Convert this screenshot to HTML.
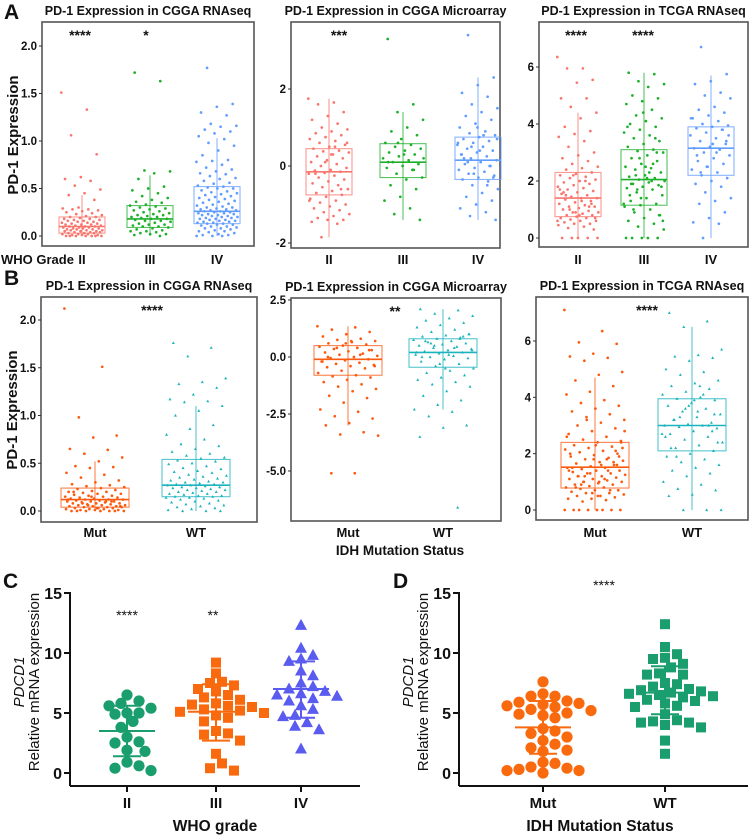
<!DOCTYPE html>
<html><head><meta charset="utf-8">
<style>
html,body{margin:0;padding:0;background:#fff;}
svg{display:block;font-family:"Liberation Sans",Arial,sans-serif;}
</style></head>
<body>
<svg id="fig" width="753" height="835" viewBox="0 0 753 835"></svg>
<script>
// ---------- DATA ----------
const gradeCats = ["II","III","IV"];
const idhCats = ["Mut","WT"];

// A1 CGGA RNAseq by grade
const a1II = [1.51,1.33,1.06,0.86,0.62,0.6,0.58,0.53,0.49,0.45,0.43,0.38,0.3,0.29,0.28,0.28,0.27,0.26,0.25,0.24,0.23,0.22,0.21,0.2,0.2,0.19,0.18,0.18,0.17,0.17,0.16,0.16,0.15,0.15,0.14,0.14,0.13,0.13,0.12,0.12,0.12,0.11,0.11,0.1,0.1,0.1,0.09,0.09,0.09,0.08,0.08,0.08,0.07,0.07,0.07,0.06,0.06,0.06,0.05,0.05,0.05,0.04,0.04,0.04,0.03,0.03,0.03,0.02,0.02,0.02,0.01,0.01,0.01,0,0,0,0,0,0,0];
const a1III = [1.72,1.63,0.69,0.68,0.66,0.6,0.52,0.5,0.48,0.45,0.42,0.4,0.38,0.36,0.35,0.33,0.32,0.31,0.3,0.29,0.28,0.27,0.26,0.25,0.24,0.23,0.22,0.22,0.21,0.2,0.2,0.19,0.18,0.18,0.17,0.16,0.16,0.15,0.14,0.13,0.12,0.12,0.11,0.1,0.1,0.09,0.08,0.07,0.06,0.05,0.05,0.04,0.03,0.02,0.02,0.01,0];
const a1IV = [1.77,1.39,1.36,1.3,1.27,1.18,1.16,1.15,1.12,1.1,1.08,1.05,1.02,0.98,0.95,0.9,0.85,0.8,0.79,0.78,0.75,0.72,0.7,0.68,0.66,0.65,0.63,0.61,0.6,0.58,0.56,0.55,0.53,0.52,0.51,0.5,0.5,0.48,0.47,0.46,0.45,0.44,0.43,0.42,0.41,0.4,0.39,0.38,0.37,0.36,0.35,0.34,0.33,0.32,0.31,0.3,0.3,0.29,0.28,0.28,0.27,0.27,0.26,0.26,0.25,0.25,0.24,0.24,0.23,0.23,0.22,0.22,0.21,0.21,0.2,0.2,0.19,0.19,0.18,0.18,0.17,0.17,0.16,0.16,0.15,0.15,0.14,0.14,0.13,0.13,0.12,0.12,0.11,0.1,0.1,0.09,0.08,0.08,0.07,0.06,0.05,0.05,0.04,0.03,0.02,0.01,0.01,0,0,0];
const a1Box = [[0,0.03,0.1,0.2,0.43],[0,0.09,0.18,0.32,0.64],[0,0.13,0.26,0.52,1.03]];

// A2 CGGA Microarray by grade
const a2II = [1.75,1.65,1.6,1.4,1.3,1.2,1.1,1.0,0.95,0.9,0.85,0.8,0.75,0.7,0.65,0.6,0.55,0.5,0.45,0.4,0.38,0.35,0.3,0.25,0.2,0.15,0.1,0.05,0.0,-0.05,-0.1,-0.12,-0.15,-0.18,-0.2,-0.25,-0.3,-0.35,-0.4,-0.45,-0.5,-0.55,-0.6,-0.65,-0.7,-0.75,-0.8,-0.85,-0.9,-0.95,-1.0,-1.05,-1.1,-1.15,-1.2,-1.25,-1.3,-1.35,-1.4,-1.4,-1.45,-1.5,-1.85,0.6,0.3,-0.2,-0.6,0.1,-0.9,0.5];
const a2III = [3.3,1.6,1.4,1.2,1.0,0.9,0.8,0.7,0.6,0.55,0.5,0.45,0.4,0.35,0.3,0.25,0.2,0.15,0.1,0.05,0.0,-0.05,-0.1,-0.2,-0.3,-0.35,-0.5,-0.6,-0.8,-0.9,-1.1,-1.25,-1.4,0.3,0.1,-0.1,0.6,0.2];
const a2IV = [3.4,2.3,2.1,1.9,1.8,1.6,1.5,1.4,1.3,1.2,1.1,1.0,0.9,0.85,0.8,0.75,0.7,0.65,0.6,0.55,0.5,0.45,0.4,0.35,0.3,0.25,0.2,0.15,0.1,0.05,0.0,-0.05,-0.1,-0.15,-0.2,-0.25,-0.3,-0.35,-0.4,-0.5,-0.6,-0.7,-0.8,-0.9,-1.0,-1.1,-1.2,-1.3,-1.4,0.4,0.2,0.0,-0.2,0.6,0.8,0.1,-0.3,1.0,0.3,-0.5,0.5,0.7];
const a2Box = [[-1.85,-0.75,-0.15,0.45,1.75],[-1.4,-0.3,0.1,0.58,1.4],[-1.4,-0.35,0.15,0.75,2.3]];

// A3 TCGA RNAseq by grade
const a3II = [6.35,5.95,5.95,5.55,5.45,4.9,4.9,4.6,4.4,4.2,3.9,3.75,3.65,3.55,3.4,3.2,3.0,2.9,2.8,2.7,2.6,2.5,2.45,2.4,2.3,2.25,2.2,2.15,2.1,2.05,2.0,1.95,1.9,1.85,1.8,1.75,1.7,1.65,1.6,1.55,1.5,1.45,1.4,1.4,1.35,1.3,1.25,1.2,1.15,1.1,1.1,1.05,1.0,0.95,0.9,0.9,0.85,0.8,0.8,0.75,0.7,0.7,0.65,0.6,0.6,0.55,0.5,0.5,0.45,0.4,0.35,0.3,0,0,0,0,0,1.3,1.5,1.2,0.9,1.7,2.0,1.0,0.7,0.8,1.6,1.1,2.2,0.6];
const a3III = [5.8,5.75,5.5,5.4,5.3,5.0,4.9,4.8,4.7,4.5,4.3,4.2,4.1,4.0,3.9,3.8,3.7,3.6,3.5,3.4,3.3,3.2,3.1,3.05,3.0,2.9,2.8,2.7,2.6,2.5,2.45,2.4,2.3,2.2,2.15,2.1,2.05,2.0,1.95,1.9,1.85,1.8,1.75,1.7,1.6,1.5,1.4,1.3,1.2,1.15,1.1,1.0,0.9,0.8,0.7,0.6,0.5,0.4,0.3,0,0,0,0,0,2.0,2.2,1.8,2.5,1.5,3.5,2.8,1.2,2.3,1.0,0.8,4.4,3.9,2.6,1.7,0.6,2.1,1.9,3.0,1.4];
const a3IV = [6.7,5.75,5.5,5.4,5.1,5.0,4.9,4.6,4.5,4.4,4.3,4.2,4.1,4.0,3.95,3.9,3.85,3.8,3.7,3.6,3.5,3.4,3.3,3.2,3.15,3.1,3.0,2.9,2.8,2.7,2.6,2.5,2.4,2.3,2.2,2.1,2.0,1.9,1.8,1.6,1.4,1.3,1.2,0.9,0.7,0.55,0.5,0,3.6,3.3,2.9,3.8,2.5,4.2,3.0,2.3,3.4];
const a3Box = [[0,0.75,1.4,2.3,4.4],[0,1.15,2.05,3.1,5.8],[0,2.2,3.15,3.9,5.7]];

// B1 CGGA RNAseq by IDH
const b1Mut = [2.12,1.51,0.98,0.79,0.77,0.65,0.64,0.6,0.56,0.52,0.47,0.46,0.45,0.4,0.38,0.35,0.32,0.3,0.28,0.27,0.26,0.25,0.24,0.23,0.22,0.21,0.2,0.2,0.19,0.18,0.18,0.17,0.16,0.16,0.15,0.15,0.14,0.14,0.13,0.13,0.12,0.12,0.12,0.11,0.11,0.1,0.1,0.1,0.09,0.09,0.08,0.08,0.08,0.07,0.07,0.06,0.06,0.06,0.05,0.05,0.05,0.04,0.04,0.04,0.03,0.03,0.03,0.02,0.02,0.02,0.01,0.01,0.01,0,0,0,0,0,0,0,0.15,0.12,0.1,0.08,0.05,0.03,0.2,0.1,0.06];
const b1WT = [1.76,1.71,1.62,1.39,1.35,1.33,1.29,1.22,1.17,1.15,1.14,1.1,1.05,1.0,0.9,0.86,0.8,0.75,0.7,0.68,0.65,0.62,0.6,0.58,0.56,0.55,0.53,0.52,0.5,0.49,0.47,0.45,0.44,0.42,0.41,0.4,0.38,0.37,0.36,0.35,0.34,0.33,0.32,0.31,0.3,0.3,0.29,0.28,0.28,0.27,0.27,0.26,0.25,0.25,0.24,0.24,0.23,0.22,0.22,0.21,0.2,0.2,0.19,0.18,0.18,0.17,0.16,0.16,0.15,0.15,0.14,0.14,0.13,0.12,0.11,0.1,0.09,0.08,0.07,0.06,0.05,0.04,0.03,0.02,0.01,0,0,0];
const b1Box = [[0,0.04,0.12,0.24,0.52],[0,0.15,0.27,0.54,1.1]];

// B2 CGGA Microarray by IDH
const b2Mut = [1.35,1.3,1.2,1.1,1.0,0.9,0.8,0.75,0.7,0.65,0.6,0.55,0.5,0.45,0.4,0.35,0.3,0.25,0.2,0.15,0.1,0.05,0.0,-0.05,-0.1,-0.15,-0.2,-0.25,-0.3,-0.35,-0.4,-0.45,-0.5,-0.6,-0.7,-0.8,-0.85,-0.9,-1.0,-1.1,-1.2,-1.3,-1.4,-1.5,-1.7,-1.8,-2.0,-2.3,-2.4,-2.6,-2.7,-2.9,-3.0,-3.3,-3.4,-3.45,-5.1,-5.1,0.3,0.6,-0.2,0.1,0.4,-0.4,0.7,0.0];
const b2WT = [2.1,2.05,1.9,1.8,1.7,1.6,1.5,1.4,1.3,1.2,1.1,1.0,0.95,0.9,0.85,0.8,0.75,0.7,0.65,0.6,0.55,0.5,0.45,0.4,0.35,0.3,0.25,0.2,0.15,0.1,0.05,0.0,-0.05,-0.1,-0.2,-0.3,-0.4,-0.5,-0.6,-0.7,-0.8,-0.9,-1.0,-1.1,-1.2,-1.3,-1.5,-1.7,-1.9,-2.1,-2.3,-2.4,-2.6,-3.0,-3.1,-3.5,-6.6,0.5,0.3,0.1,0.7,0.9,-0.3,0.2,0.4,0.6,1.0,-0.5,0.0,0.8];
const b2Box = [[-3.0,-0.8,-0.1,0.5,1.35],[-2.3,-0.45,0.2,0.8,2.1]];

// B3 TCGA RNAseq by IDH
const b3Mut = [7.1,6.35,5.95,5.9,5.55,5.45,5.4,5.3,4.9,4.8,4.6,4.4,4.2,4.1,3.9,3.8,3.7,3.6,3.5,3.4,3.3,3.2,3.1,3.0,2.9,2.8,2.7,2.6,2.5,2.45,2.4,2.3,2.25,2.2,2.15,2.1,2.05,2.0,1.95,1.9,1.85,1.8,1.75,1.7,1.65,1.6,1.55,1.5,1.5,1.45,1.4,1.4,1.35,1.3,1.3,1.25,1.2,1.2,1.15,1.1,1.1,1.05,1.0,1.0,0.95,0.9,0.9,0.85,0.8,0.8,0.75,0.7,0.7,0.65,0.6,0.6,0.55,0.5,0.5,0.45,0.4,0.4,0.35,0.3,0,0,0,0,0,0,0,0,1.6,1.8,2.0,1.4,1.2,2.2,1.0,0.8,1.7,1.3,2.6,1.1,0.9,1.9,2.3,1.5,0.7,3.2,2.8,1.6,1.2,2.1,0.6,1.4,1.8,1.0,2.4,0.5];
const b3WT = [7.0,6.7,6.5,5.7,5.5,5.45,5.4,5.3,5.0,4.9,4.8,4.6,4.5,4.4,4.3,4.2,4.1,4.0,3.95,3.9,3.8,3.7,3.6,3.5,3.4,3.3,3.2,3.1,3.05,3.0,3.0,2.95,2.9,2.8,2.7,2.6,2.5,2.4,2.3,2.2,2.1,2.0,1.9,1.8,1.7,1.6,1.5,1.4,1.3,1.2,1.0,0.9,0.75,0.7,0.55,0.5,0,0,0,3.5,3.2,2.8,3.7,2.6,4.1,3.3,2.4,3.9,2.2,3.0,3.6,2.7,4.4,1.9,3.4];
const b3Box = [[0,0.78,1.52,2.4,4.7],[0,2.1,3.0,3.95,6.5]];

// C: qPCR by WHO grade
const cII = [6.5,6.0,5.8,5.6,5.4,5.0,5.0,4.9,4.3,3.8,3.0,2.6,2.5,1.9,1.8,0.9,0.6,0.4,0.2];
const cIII = [9.2,8.3,7.6,7.5,7.3,7.0,6.8,6.5,6.3,6.1,5.8,5.7,5.6,5.5,5.3,5.2,5.1,5.0,4.8,4.6,4.3,3.5,3.3,3.2,2.7,1.6,0.8,0.4,0.2];
const cIV = [12.3,10.4,9.8,9.5,9.3,8.5,8.1,7.5,7.2,7.0,6.8,6.6,6.5,6.4,6.2,6.0,5.6,5.3,4.8,4.7,4.2,3.9,3.6,2.0];
const cStats = [[3.5,1.4,5.6],[5.1,2.7,7.4],[7.0,4.6,9.3]];
// D: qPCR by IDH
const dMut = [7.6,6.6,6.4,6.4,6.0,5.9,5.8,5.7,5.6,5.5,5.3,5.2,5.0,4.9,4.8,4.6,3.7,3.5,3.3,3.0,2.7,2.4,2.1,1.9,1.8,0.9,0.8,0.5,0.4,0.3,0.2,0.2,0.0];
const dWT = [12.4,10.5,9.9,9.6,9.5,9.1,8.8,8.3,8.2,8.2,7.5,7.4,7.2,7.0,6.9,6.8,6.7,6.6,6.5,6.4,6.3,6.1,6.0,5.8,5.6,5.5,4.9,4.4,4.3,4.2,4.2,4.0,3.8,2.7,1.6];
const dStats = [[3.8,1.6,6.0],[6.7,4.9,8.9]];
const qTicks = [0,5,10,15];

// ---------- DRAWING ----------
const NS = "http://www.w3.org/2000/svg";
const svg = document.getElementById("fig");
function el(tag, attrs, parent){
  const e = document.createElementNS(NS, tag);
  for (const k in attrs) e.setAttribute(k, attrs[k]);
  (parent||svg).appendChild(e);
  return e;
}
function txt(s, x, y, size, anchor, parent, extra){
  const t = el("text", Object.assign({x:x, y:y, "font-size":size, "font-weight":"bold", "text-anchor":anchor||"middle", fill:"#111"}, extra||{}), parent);
  t.textContent = s;
  return t;
}
function scale(v0,p0,v1,p1){ return v => p0 + (v - v0) * (p1 - p0) / (v1 - v0); }

function boxPanel(name, cfg){
  const g = el("g", {});
  
  
  const y = scale(cfg.v0, cfg.p0, cfg.v1, cfg.p1);
  const fr = el("rect", {x:cfg.x0, y:cfg.y0, width:cfg.x1-cfg.x0, height:cfg.y1-cfg.y0, fill:"none", stroke:"#555", "stroke-width":1.6}, g);
  
  
  const tt = txt(cfg.title, (cfg.x0+cfg.x1)/2, cfg.y0-7, 12.5, "middle", g);
  
  
  cfg.ticks.forEach((t,i) => {
    const py = y(t);
    el("line", {x1:cfg.x0-3, x2:cfg.x0, y1:py, y2:py, stroke:"#333", "stroke-width":1}, g);
    const lbl = txt(cfg.tickLabels[i], cfg.x0-5, py+4, 11.5, "end", g);
    
    
  });
  cfg.cats.forEach((c,i) => {
    const cx = cfg.cx[i];
    const col = cfg.colors[i];
    const b = cfg.box[i];
    const hw = cfg.hw;
    el("line", {x1:cx, x2:cx, y1:y(b[0]), y2:y(b[4]), stroke:col, "stroke-width":1, opacity:0.8}, g);
    const r = el("rect", {x:cx-hw, y:y(b[3]), width:2*hw, height:y(b[1])-y(b[3]), fill:"none", stroke:col, "stroke-width":1.1, opacity:0.75}, g);
    
    
    el("line", {x1:cx-hw, x2:cx+hw, y1:y(b[2]), y2:y(b[2]), stroke:col, "stroke-width":1.6}, g);
    cfg.vals[i].forEach((v,j) => {
      const off = (((j*0.6180339887)+0.13*i) % 1 - 0.5) * 2 * hw * 0.9;
      let p;
      if (cfg.tri && i===1){
        const px = cx+off, py = y(v);
        p = el("path", {d:`M${px},${py-1.6}L${px+1.5},${py+1.1}L${px-1.5},${py+1.1}Z`, fill:col}, g);
      } else {
        p = el("circle", {cx:cx+off, cy:y(v), r:1.35, fill:col}, g);
      }
      
      
    });
    const xl = txt(c, cx, cfg.labelY, 13, "middle", g);
    
    
  });
  cfg.stars.forEach(s => {
    const st = txt(s[0], s[1], cfg.y0+18, 14, "middle", g);
    
    
  });
}

const red="#F8766D", grn="#1DB02A", blu="#619CFF", org="#FC5A0F", teal="#1BB3BD";

boxPanel("panel-a-cgga-rnaseq", {x0:42,x1:254,y0:22,y1:246,v0:0,p0:236,v1:2,p1:46,title:"PD-1 Expression in CGGA RNAseq",
  ticks:[0,0.5,1,1.5,2], tickLabels:["0.0","0.5","1.0","1.5","2.0"], cats:gradeCats, cx:[82,150,217], hw:23,
  colors:[red,grn,blu], box:a1Box, vals:[a1II,a1III,a1IV], labelY:264, stars:[["****",80],["*",146]]});
boxPanel("panel-a-cgga-microarray", {x0:291,x1:500,y0:22,y1:248,v0:0,p0:166,v1:2,p1:89,title:"PD-1 Expression in CGGA Microarray",
  ticks:[-2,0,2], tickLabels:["-2","0","2"], cats:gradeCats, cx:[329,403,478], hw:23,
  colors:[red,grn,blu], box:a2Box, vals:[a2II,a2III,a2IV], labelY:264, stars:[["***",339]]});
boxPanel("panel-a-tcga-rnaseq", {x0:539,x1:748,y0:22,y1:247,v0:0,p0:238,v1:6,p1:67,title:"PD-1 Expression in TCGA RNAseq",
  ticks:[0,2,4,6], tickLabels:["0","2","4","6"], cats:gradeCats, cx:[578,644,711], hw:23,
  colors:[red,grn,blu], box:a3Box, vals:[a3II,a3III,a3IV], labelY:264, stars:[["****",576],["****",643]]});

boxPanel("panel-b-cgga-rnaseq", {x0:41,x1:257,y0:297,y1:522,v0:0,p0:511,v1:2,p1:320,title:"PD-1 Expression in CGGA RNAseq",
  ticks:[0,0.5,1,1.5,2], tickLabels:["0.0","0.5","1.0","1.5","2.0"], cats:idhCats, cx:[95,196], hw:34, tri:true,
  colors:[org,teal], box:b1Box, vals:[b1Mut,b1WT], labelY:537, stars:[["****",152]]});
boxPanel("panel-b-cgga-microarray", {x0:291,x1:501,y0:298,y1:521,v0:0,p0:357,v1:2.5,p1:300,title:"PD-1 Expression in CGGA Microarray",
  ticks:[-5,-2.5,0,2.5], tickLabels:["-5.0","-2.5","0.0","2.5"], cats:idhCats, cx:[348,443], hw:34, tri:true,
  colors:[org,teal], box:b2Box, vals:[b2Mut,b2WT], labelY:537, stars:[["**",395]]});
boxPanel("panel-b-tcga-rnaseq", {x0:536,x1:748,y0:297,y1:520,v0:0,p0:510,v1:6,p1:341,title:"PD-1 Expression in TCGA RNAseq",
  ticks:[0,2,4,6], tickLabels:["0","2","4","6"], cats:idhCats, cx:[595,692], hw:34, tri:true,
  colors:[org,teal], box:b3Box, vals:[b3Mut,b3WT], labelY:537, stars:[["****",647]]});

let t;
t = txt("A", 4, 19, 21, "start");  
t = txt("B", 4, 285, 21, "start");  
t = txt("WHO Grade", 1, 264, 13, "start");  
t = txt("PD-1 Expression", 0, 0, 15, "middle", null, {transform:"translate(18,135) rotate(-90)"});  
t = txt("PD-1 Expression", 0, 0, 15, "middle", null, {transform:"translate(17,410) rotate(-90)"});  
t = txt("IDH Mutation Status", 400, 555, 13.5, "middle");  

// ---------- Scatter (qPCR) panels ----------
function swarm(vals, cx, y, r){
  const placed = [];
  const order = vals.map((v,i)=>i).sort((a,b)=>vals[b]-vals[a]);
  const out = new Array(vals.length);
  order.forEach(i => {
    const py = y(vals[i]);
    const cands = [0];
    for (let k=1;k<12;k++){ cands.push(k*r, -k*r); }
    for (const o of cands){
      const px = cx + o;
      if (placed.every(p => (p[0]-px)**2 + (p[1]-py)**2 >= (2*r*0.85)**2)){
        placed.push([px,py]); out[i]=[px,py]; break;
      }
    }
    if (!out[i]) out[i]=[cx,py];
  });
  return out;
}
function scatterPanel(name, cfg){
  const g = el("g", {});
  
  
  const y = scale(0, 773, 15, 593);
  el("line", {x1:cfg.ax, x2:cfg.ax, y1:592, y2:786, stroke:"#111", "stroke-width":2}, g);
  el("line", {x1:cfg.ax, x2:cfg.axEnd, y1:786, y2:786, stroke:"#111", "stroke-width":2}, g);
  qTicks.forEach(v => {
    el("line", {x1:cfg.ax-6, x2:cfg.ax, y1:y(v), y2:y(v), stroke:"#111", "stroke-width":2}, g);
    const l = txt(String(v), cfg.ax-8, y(v)+6, 16, "end", g);
    
    
  });
  cfg.cats.forEach((c,i) => {
    const cx = cfg.cx[i], col = cfg.colors[i], shp = cfg.shapes[i];
    el("line", {x1:cx, x2:cx, y1:786, y2:792, stroke:"#111", "stroke-width":2}, g);
    const pts = swarm(cfg.vals[i], cx, y, 6);
    pts.forEach(p => {
      let m;
      if (shp==="circle") m = el("circle", {cx:p[0], cy:p[1], r:5.6, fill:col}, g);
      else if (shp==="square") m = el("rect", {x:p[0]-5, y:p[1]-5, width:10, height:10, fill:col}, g);
      else m = el("path", {d:`M${p[0]},${p[1]-6.5}L${p[0]+6},${p[1]+4.5}L${p[0]-6},${p[1]+4.5}Z`, fill:col}, g);
      
      
    });
    const s = cfg.stats[i];
    const mean = el("line", {x1:cx-28, x2:cx+28, y1:y(s[0]), y2:y(s[0]), stroke:col, "stroke-width":2}, g);
    
    
    el("line", {x1:cx, x2:cx, y1:y(s[1]), y2:y(s[2]), stroke:col, "stroke-width":2}, g);
    el("line", {x1:cx-14, x2:cx+14, y1:y(s[1]), y2:y(s[1]), stroke:col, "stroke-width":2}, g);
    el("line", {x1:cx-14, x2:cx+14, y1:y(s[2]), y2:y(s[2]), stroke:col, "stroke-width":2}, g);
    const xl = txt(c, cx, 808, 15, "middle", g);
    
    
  });
  cfg.stars.forEach(s => {
    const st = txt(s[0], s[1], s[2], 14, "middle", g, {"font-weight":"normal"});
    
    
  });
  const xt = txt(cfg.xTitle, cfg.xTitleX, 831, 15.5, "middle", g);
  
  
  const yl1 = txt("PDCD1", 0, 0, 15, "middle", g, {transform:`translate(${cfg.ax-46},682) rotate(-90)`, "font-style":"italic", "font-weight":"normal"});
  
  
  const yl2 = txt("Relative mRNA expression", 0, 0, 15, "middle", g, {transform:`translate(${cfg.ax-31},682) rotate(-90)`, "font-weight":"normal"});
  
  
  const L = txt(cfg.letter, cfg.letterX, 588, 21, "start", g);
  
  
}
scatterPanel("panel-c-who-grade", {ax:70, axEnd:360, cats:gradeCats, cx:[127,216,301], colors:["#1B9E6E","#F96A0E","#5A5CF0"],
  shapes:["circle","square","triangle"], vals:[cII,cIII,cIV], stats:cStats, stars:[["****",127,620],["**",213,620]],
  xTitle:"WHO grade", xTitleX:215, letter:"C", letterX:3});
scatterPanel("panel-d-idh-status", {ax:459, axEnd:748, cats:idhCats, cx:[543,665], colors:["#F96A0E","#1B9E6E"],
  shapes:["circle","square"], vals:[dMut,dWT], stats:dStats, stars:[["****",604,590]],
  xTitle:"IDH Mutation Status", xTitleX:600, letter:"D", letterX:393});
</script>
</body></html>
